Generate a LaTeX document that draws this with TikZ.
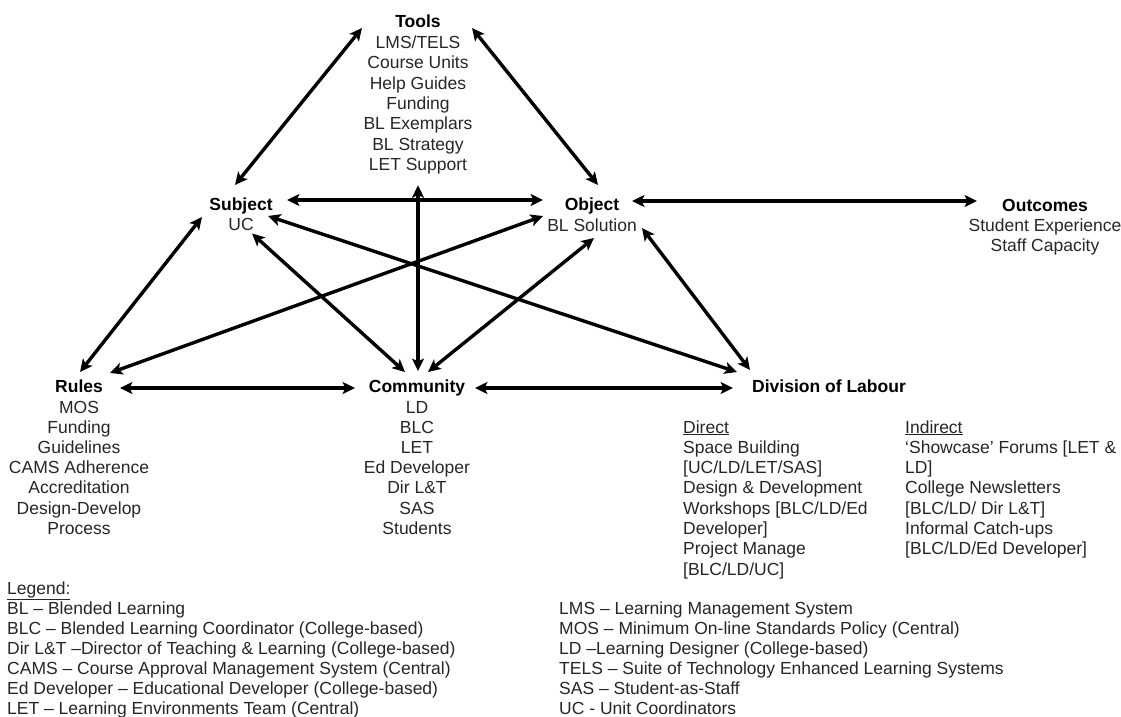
\documentclass[tikz,border=0pt]{standalone}
\usepackage{fontspec}
\setmainfont{Liberation Sans}
\usetikzlibrary{arrows.meta,calc}
\begin{document}
\begin{tikzpicture}[x=1pt,y=-1pt,
  txt/.style={inner sep=0pt, text=black!85, font=\fontsize{17.5}{20.3}\selectfont},
  hd/.style={inner sep=0pt, text=black, font=\fontsize{17.5}{20.3}\selectfont\bfseries},
  tip/.tip={Stealth[length=12.5pt,width=12pt,inset=3pt]},
  link/.style={line width=3.4pt, tip-tip}]
\useasboundingbox (0,0) rectangle (1121,717);

% Tools
\node[hd, anchor=base] (tools) at (418,28) {Tools};
\foreach \t [count=\i from 0] in {{LMS/TELS},{Course Units},{Help Guides},{Funding},{BL Exemplars},{BL Strategy},{LET Support}}
  \node[txt, anchor=base] (tl\i) at (418,{48.5+20.3*\i}) {\t};

% Subject / Object / Outcomes
\node[hd, anchor=base] (subj) at (241,210) {Subject};
\node[txt, anchor=base] (uc) at (241,230.5) {UC};
\node[hd, anchor=base] (obj) at (592,210) {Object};
\node[txt, anchor=base] (objl) at (592,231) {BL Solution};
\node[hd, anchor=base] (outc) at (1045,211) {Outcomes};
\node[txt, anchor=base] (out1) at (1045,231.3) {Student Experience};
\node[txt, anchor=base] (out2) at (1045,251.6) {Staff Capacity};

% Rules / Community / Division of Labour
\node[hd, anchor=base] (rules) at (79,392) {Rules};
\foreach \t [count=\i from 0] in {{MOS},{Funding},{Guidelines},{CAMS Adherence},{Accreditation},{Design-Develop},{Process}}
  \node[txt, anchor=base] (rl\i) at (79,{413+20.2*\i}) {\t};
\node[hd, anchor=base] (comm) at (417,392) {Community};
\foreach \t [count=\i from 0] in {{LD},{BLC},{LET},{Ed Developer},{Dir L\&T},{SAS},{Students}}
  \node[txt, anchor=base] (cl\i) at (417,{413+20.2*\i}) {\t};
\node[hd, anchor=base west] (dol) at (752,392) {Division of Labour};
\foreach \t [count=\i from 0] in {{\underline{Direct}},{Space Building},{[UC/LD/LET/SAS]},{Design \& Development},{Workshops [BLC/LD/Ed},{Developer]},{Project Manage},{[BLC/LD/UC]}}
  \node[txt, anchor=base west] (dd\i) at (683,{433+20.3*\i}) {\t};
\foreach \t [count=\i from 0] in {{\underline{Indirect}},{`Showcase' Forums [LET \&},{LD]},{College Newsletters},{[BLC/LD/ Dir L\&T]},{Informal Catch-ups},{[BLC/LD/Ed Developer]}}
  \node[txt, anchor=base west] (di\i) at (905,{433+20.3*\i}) {\t};

% Legend
\foreach \t [count=\i from 0] in {{\underline{Legend:}},{BL – Blended Learning},{BLC – Blended Learning Coordinator (College-based)},{Dir L\&T –Director of Teaching \& Learning (College-based)},{CAMS – Course Approval Management System (Central)},{Ed Developer – Educational Developer (College-based)},{LET – Learning Environments Team (Central)}}
  \node[txt, anchor=base west] (lg\i) at (7,{594+20.1*\i}) {\t};
\foreach \t [count=\i from 1] in {{LMS – Learning Management System},{MOS – Minimum On-line Standards Policy (Central)},{LD –Learning Designer (College-based)},{TELS – Suite of Technology Enhanced Learning Systems},{SAS – Student-as-Staff},{UC - Unit Coordinators}}
  \node[txt, anchor=base west] (lr\i) at (559,{594+20.1*\i}) {\t};

% Connectors
\draw[link] ($(tools.base)+(-56,0)$) -- ($(subj.base)+(-6,-25)$);
\draw[link] ($(tools.base)+(54,0)$) -- ($(obj.base)+(6,-25)$);
\draw[link] ($(subj.base)+(46,-10)$) -- ($(obj.base)+(-49,-10)$);
\draw[link] ($(tl6.base)+(0,15)$) -- ($(comm.base)+(1,-21)$);
\draw[link] ($(obj.base)+(40,-9)$) -- ($(outc.base)+(-68,-10)$);
\draw[link] ($(subj.base)+(-39,7)$) -- ($(rules.base)+(1,-20)$);
\draw[link] ($(uc.base)+(11,3)$) -- ($(comm.base)+(-12,-20)$);
\draw[link] ($(subj.base)+(27,6)$) -- ($(dol.base west)+(-15,-20)$);
\draw[link] ($(rules.base)+(31,-19)$) -- ($(obj.base)+(-49,6)$);
\draw[link] ($(comm.base)+(11,-20)$) -- ($(objl.base)+(2,7)$);
\draw[link] ($(objl.base)+(50,-3)$) -- ($(dol.base west)+(-2,-22)$);
\draw[link] ($(rules.base)+(41,-4)$) -- ($(comm.base)+(-62,-4)$);
\draw[link] ($(comm.base)+(58,-4)$) -- ($(dol.base west)+(-19,-4)$);
\end{tikzpicture}
\end{document}
